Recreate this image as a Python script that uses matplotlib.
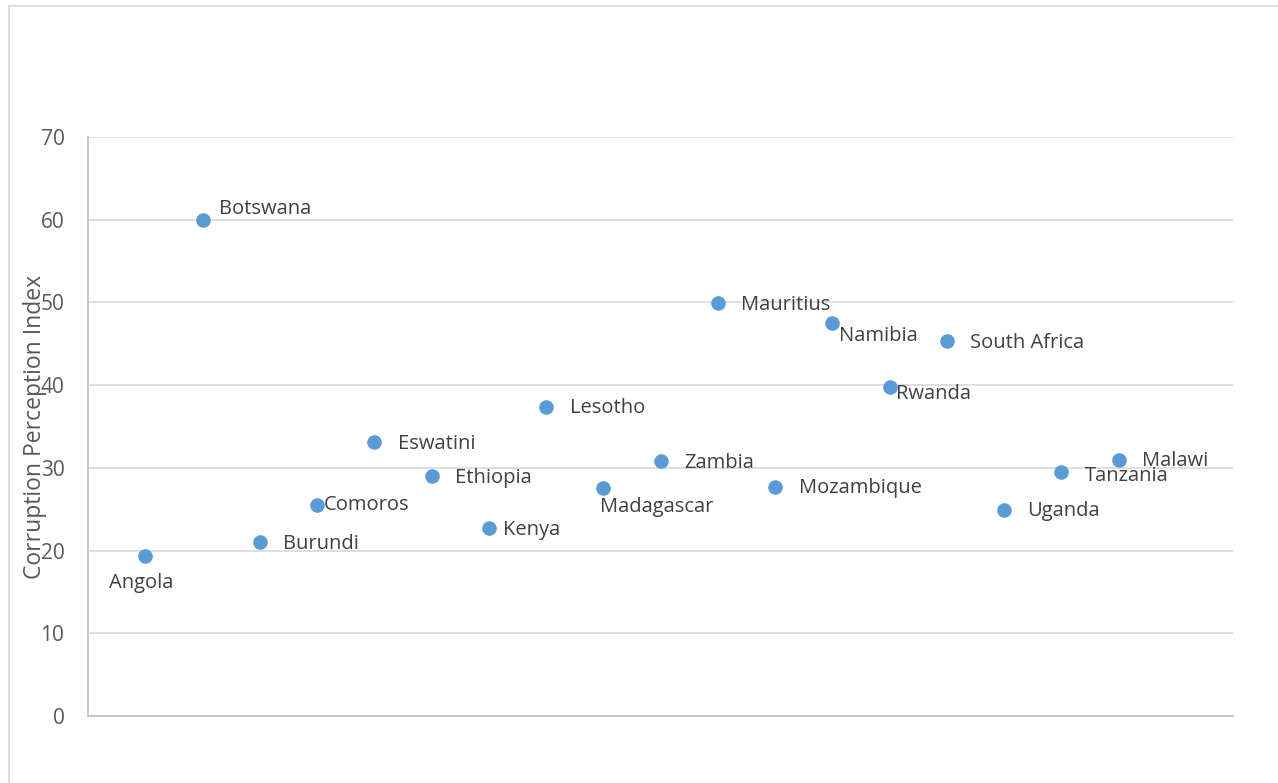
import matplotlib.pyplot as plt
from matplotlib.lines import Line2D

# Corruption Perception Index by country
countries = ["Angola", "Botswana", "Burundi", "Comoros", "Eswatini", "Ethiopia",
             "Kenya", "Lesotho", "Madagascar", "Zambia", "Mauritius", "Mozambique",
             "Namibia", "Rwanda", "South Africa", "Uganda", "Tanzania", "Malawi"]
cpi = [19.3, 60, 21, 25.5, 33.1, 29, 22.7, 37.4, 27.6, 30.8, 49.9, 27.7,
       47.5, 39.8, 45.3, 24.9, 29.5, 31]

# label offsets in points (dx, dy, horizontal alignment)
offsets = {
    "Angola": (-3, -19, "center"),
    "Botswana": (12, 8, "left"),
    "Comoros": (5, 0, "left"),
    "Kenya": (10, -1, "left"),
    "Madagascar": (-2, -14, "left"),
    "Namibia": (5, -9, "left"),
    "Rwanda": (5, -5, "left"),
    "Tanzania": (17, -3, "left"),
}

plt.rcParams['font.family'] = ['Open Sans', 'DejaVu Sans']

fig = plt.figure(figsize=(12.78, 7.83), dpi=100)
ax = fig.add_axes([88 / 1278, 1 - 716 / 783, 1145 / 1278, 579 / 783])

xs = list(range(1, len(countries) + 1))
ax.scatter(xs, cpi, s=110, color="#5b9bd5", zorder=3, linewidths=0)

for x, y, name in zip(xs, cpi, countries):
    dx, dy, ha = offsets.get(name, (17, -1, "left"))
    ax.annotate(name, (x, y), xytext=(dx, dy), textcoords="offset points",
                ha=ha, va="center", fontsize=14.5, color="#404040", zorder=4)

ax.set_xlim(0, 20)
ax.set_ylim(0, 70)
ax.set_yticks(range(0, 71, 10))
ax.set_xticks([])
ax.grid(axis="y", color="#d9d9d9", linewidth=1.2)
ax.set_axisbelow(True)
for side in ["top", "right"]:
    ax.spines[side].set_visible(False)
for side in ["left", "bottom"]:
    ax.spines[side].set_color("#bfbfbf")
    ax.spines[side].set_linewidth(1.2)
ax.tick_params(axis="y", length=0, pad=17, labelsize=15, labelcolor="#595959")
ax.set_ylabel("Corruption Perception Index", fontsize=16.5, color="#595959")
ax.yaxis.set_label_coords(-41 / 1145, 0.5)

# outer chart frame
fig.add_artist(Line2D([9 / 1278, 9 / 1278], [0, 1 - 6 / 783],
                      transform=fig.transFigure, color="#d9d9d9", linewidth=1.2))
fig.add_artist(Line2D([9 / 1278, 1], [1 - 6 / 783, 1 - 6 / 783],
                      transform=fig.transFigure, color="#d9d9d9", linewidth=1.2))

fig.savefig("out.png", dpi=100, facecolor="white")
